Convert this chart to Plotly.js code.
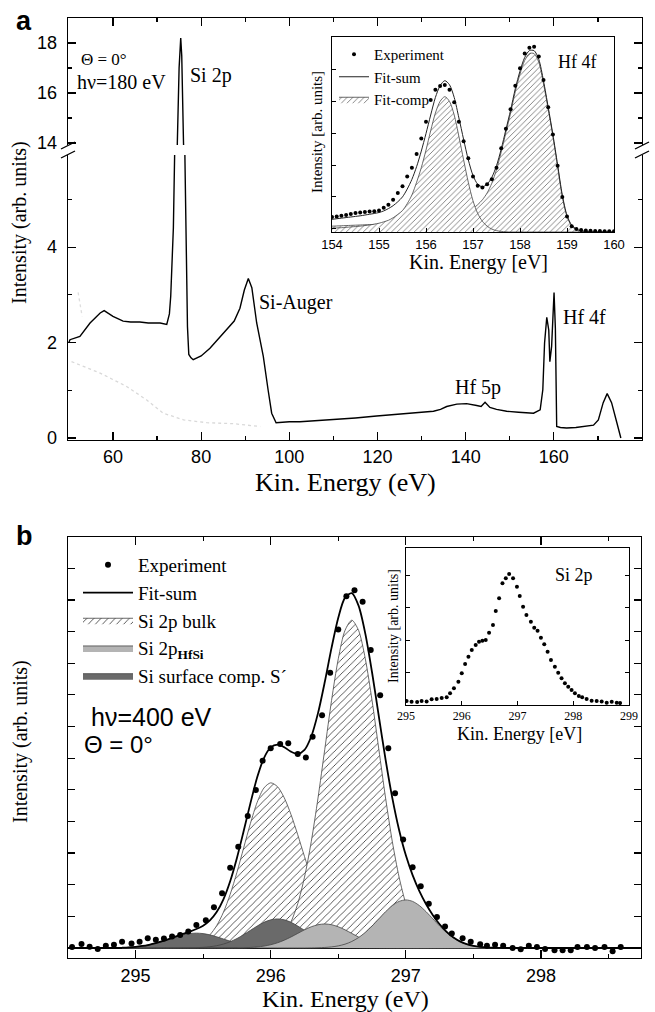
<!DOCTYPE html>
<html><head><meta charset="utf-8">
<script src="https://cdn.plot.ly/plotly-3.0.1.min.js"></script>
<style>html,body{margin:0;padding:0;background:#fff}#chart{width:655px;height:1012px}</style>
</head><body><div id="chart"></div>
<script>
// ---------- Panel a: survey spectrum ----------
const surveyE = [50,50.25,52.5,54.8,57.1,58,60,62.3,64,66.1,68,70.7,72.2,72.8,73.1,73.5,73.7,74.0,74.6,75.0,75.37,75.6,76.0,76.3,76.6,76.9,77.2,77.7,78.2,80,82,84,85.5,86.5,87.5,88.8,89.8,90.7,91.5,92.6,93.4,94.1,95.2,96.0,97.0,98.5,100,102.4,106,110,115,119.8,124,127.4,130,132.7,134.3,135.7,138.0,140.2,142.5,143.5,144.4,145.5,147,149.3,152,155.4,156.9,157.5,157.9,158.4,158.85,159.1,159.5,160.05,160.35,160.65,161.5,162.9,165,166.7,168,169.0,170.1,171.2,172.1,173.1,174.3,175.2];
const surveyI = [2.0,2.06,2.13,2.41,2.62,2.67,2.55,2.45,2.43,2.43,2.41,2.41,2.38,2.6,2.97,3.8,4.4,6,14,17,18.2,17.5,14,6,3.5,2.33,1.75,1.68,1.64,1.72,1.88,2.08,2.25,2.33,2.45,2.72,3.1,3.34,3.15,2.41,2.0,1.71,1.0,0.52,0.32,0.33,0.34,0.34,0.36,0.39,0.42,0.46,0.49,0.52,0.54,0.56,0.6,0.66,0.71,0.72,0.68,0.66,0.75,0.64,0.6,0.56,0.54,0.52,0.59,1.01,1.99,2.53,2.26,1.6,1.92,3.05,2.3,0.24,0.22,0.21,0.22,0.24,0.26,0.27,0.38,0.74,0.93,0.74,0.32,0.0];
const faintE = [50.6,57.1,63.1,67.6,71.4,76.0,81.3,87.3,93.4];
const faintI = [1.6,1.36,1.08,0.8,0.52,0.38,0.32,0.30,0.24];
const faint2E = [52.1,52.6,53.0];
const faint2I = [3.05,2.8,2.55];
const aXTicks = [60,80,100,120,140,160,180];
const aYLowTicks = [0,2,4];
const aYHighTicks = [14,16,18];

// ---------- Panel a inset: Hf 4f ----------
const hfE = [154.0,154.1,154.2,154.3,154.4,154.5,154.6,154.7,154.8,154.9,155.0,155.1,155.2,155.3,155.4,155.5,155.6,155.7,155.8,155.9,156.0,156.1,156.2,156.3,156.4,156.5,156.6,156.7,156.8,156.9,157.0,157.1,157.2,157.3,157.4,157.5,157.6,157.7,157.8,157.9,158.0,158.1,158.2,158.3,158.4,158.5,158.6,158.7,158.8,158.9,159.0,159.1,159.2,159.3,159.4,159.5,159.6,159.7,159.8,159.9,160.0];
const hfExp = [.077,.080,.083,.087,.092,.097,.100,.103,.105,.107,.110,.125,.140,.165,.200,.235,.285,.330,.400,.480,.566,.677,.730,.749,.754,.730,.665,.565,.465,.378,.285,.237,.228,.245,.270,.330,.430,.530,.630,.750,.840,.915,.945,.950,.900,.780,.640,.500,.340,.180,.080,.030,.015,.010,.008,.006,.005,.005,.004,.004,.004];
const hfSum = [.065,.068,.071,.074,.077,.080,.083,.087,.091,.095,.100,.108,.120,.135,.155,.180,.220,.270,.335,.415,.505,.600,.690,.750,.776,.755,.690,.585,.475,.370,.290,.245,.232,.245,.280,.340,.425,.525,.625,.735,.825,.895,.930,.930,.885,.775,.640,.500,.345,.190,.085,.035,.015,.006,.003,.001,0,0,0,0,0];
const hfComp1 = [.020,.021,.022,.024,.026,.028,.030,.033,.036,.040,.045,.052,.060,.073,.090,.110,.145,.190,.255,.330,.420,.520,.610,.670,.694,.670,.600,.490,.370,.255,.160,.095,.055,.030,.015,.007,.003,.001,0,0,0,0,0,0,0,0,0,0,0,0,0,0,0,0,0,0,0,0,0,0,0];
const hfComp2 = [.030,.031,.032,.033,.034,.035,.036,.037,.038,.039,.040,.042,.044,.046,.048,.050,.052,.054,.056,.058,.060,.063,.066,.069,.072,.075,.080,.087,.095,.106,.120,.140,.165,.200,.250,.320,.410,.510,.610,.720,.810,.880,.915,.915,.870,.760,.630,.490,.335,.180,.080,.030,.012,.005,.002,0,0,0,0,0,0];
const hfXTicks = [154,155,156,157,158,159,160];

// ---------- Panel b: Si 2p fit ----------
const bE = [294.90,294.95,295.00,295.05,295.10,295.15,295.20,295.25,295.30,295.35,295.40,295.45,295.50,295.55,295.60,295.65,295.70,295.75,295.80,295.85,295.90,295.95,296.00,296.05,296.10,296.15,296.20,296.25,296.30,296.35,296.40,296.45,296.50,296.55,296.60,296.65,296.70,296.75,296.80,296.85,296.90,296.95,297.00,297.05,297.10,297.15,297.20,297.25,297.30,297.35,297.40,297.45,297.50,297.55,297.60,297.65,297.70,297.75,297.80,297.85,297.90];
const bBulk1 = [0,0,0,0,0,0,.002,.005,.011,.027,.058,.119,.229,.416,.706,1.129,1.695,2.39,3.166,3.94,4.607,5.058,5.22,5.10,4.75,4.22,3.58,2.89,2.23,1.64,1.15,.77,.49,.30,.17,.094,.051,.026,.013,.006,.003,0,0,0,0,0,0,0,0,0,0,0,0,0,0,0,0,0,0,0,0];
const bBulk2 = [0,0,0,0,0,0,0,0,0,0,0,0,0,0,0,0,0,0,.003,.009,.023,.053,.115,.236,.455,.825,1.40,2.24,3.36,4.74,6.28,7.82,9.14,10.04,10.36,10.04,9.14,7.82,6.28,4.74,3.36,2.24,1.40,.825,.455,.236,.115,.053,.023,.009,.003,0,0,0,0,0,0,0,0,0,0];
const bSurf1 = [.011,.021,.037,.064,.102,.153,.215,.285,.355,.415,.455,.47,.455,.415,.355,.285,.215,.153,.102,.064,.037,.021,.011,.005,.002,0,0,0,0,0,0,0,0,0,0,0,0,0,0,0,0,0,0,0,0,0,0,0,0,0,0,0,0,0,0,0,0,0,0,0,0];
const bSurf2 = [0,0,0,0,0,0,0,0,0,.002,.005,.010,.021,.040,.073,.124,.199,.299,.421,.558,.694,.812,.891,.92,.891,.812,.694,.558,.421,.299,.199,.124,.073,.040,.021,.010,.005,.002,0,0,0,0,0,0,0,0,0,0,0,0,0,0,0,0,0,0,0,0,0,0,0];
const bHfSi1 = [0,0,0,0,0,0,0,0,0,0,0,0,0,0,0,0,.002,.004,.008,.017,.033,.060,.103,.164,.247,.348,.461,.574,.671,.736,.76,.736,.671,.574,.461,.348,.247,.164,.103,.060,.033,.017,.008,.004,.002,0,0,0,0,0,0,0,0,0,0,0,0,0,0,0,0];
const bHfSi2 = [0,0,0,0,0,0,0,0,0,0,0,0,0,0,0,0,0,0,0,0,0,0,0,0,0,0,0,0,.003,.008,.017,.035,.067,.121,.206,.329,.494,.696,.922,1.147,1.341,1.473,1.52,1.473,1.341,1.147,.922,.696,.494,.329,.206,.121,.067,.035,.017,.008,.003,0,0,0,0];
const bSum = [.011,.021,.037,.064,.102,.153,.217,.29,.366,.444,.518,.599,.705,.871,1.134,1.538,2.111,2.846,3.697,4.579,5.394,6.004,6.34,6.425,6.345,6.206,6.135,6.262,6.685,7.423,8.406,9.485,10.441,11.075,11.218,10.821,9.937,8.708,7.318,5.953,4.737,3.73,2.928,2.302,1.798,1.383,1.037,.749,.517,.338,.209,.121,.067,.035,.017,.008,.003,0,0,0,0];
const bExpE = [294.53,294.60,294.66,294.72,294.78,294.84,294.90,294.97,295.03,295.09,295.15,295.21,295.27,295.33,295.39,295.45,295.52,295.58,295.64,295.70,295.76,295.83,295.89,295.94,296.00,296.07,296.13,296.20,296.26,296.31,296.38,296.44,296.50,296.56,296.62,296.68,296.74,296.81,296.87,296.92,296.98,297.05,297.11,297.17,297.23,297.29,297.34,297.42,297.48,297.55,297.60,297.66,297.72,297.79,297.85,297.91,297.97,298.03,298.10,298.16,298.22,298.27,298.34,298.40,298.47,298.53,298.59];
const bExpI = [.03,.13,.04,-.03,.07,.10,.20,.14,.20,.31,.26,.30,.36,.41,.52,.73,.88,1.29,1.73,2.54,3.20,4.17,4.99,5.92,6.31,6.45,6.47,6.13,6.02,6.68,7.36,8.70,10.07,11.12,11.31,10.94,9.42,7.99,6.31,4.89,3.43,2.55,1.95,1.40,.98,.68,.46,.31,.20,.12,.07,.10,.07,0,-.04,.07,.03,-.03,-.07,-.07,-.07,.03,.03,0,.03,-.10,.03];
const bXTicks = [295,296,297,298];

// ---------- Panel b inset: Si 2p ----------
const siE = [295.01,295.10,295.20,295.28,295.37,295.46,295.55,295.64,295.73,295.79,295.86,295.94,296.00,296.06,296.12,296.18,296.25,296.31,296.37,296.43,296.49,296.56,296.61,296.67,296.73,296.79,296.85,296.92,296.99,297.04,297.10,297.16,297.24,297.30,297.36,297.42,297.48,297.54,297.60,297.67,297.73,297.79,297.85,297.91,297.97,298.03,298.10,298.16,298.24,298.33,298.42,298.51,298.60,298.69,298.78,298.84];
const siI = [.031,.025,.023,.030,.027,.044,.046,.054,.059,.090,.128,.179,.244,.315,.372,.423,.462,.487,.495,.500,.556,.615,.723,.821,.936,.975,1.008,.975,.910,.838,.756,.692,.641,.595,.572,.518,.467,.410,.346,.295,.248,.205,.167,.141,.115,.090,.069,.059,.046,.033,.031,.027,.018,.025,.018,.015];
const siXTicks = [295,296,297,298,299];

// ---------- helpers ----------
const W = 655, H = 1012;
const px = v => v / W;
const py = v => 1 - v / H;
const SERIF = 'Liberation Serif';
const SANS = 'Liberation Sans';
const hatchA = {shape: '/', fgcolor: '#6a6a6a', bgcolor: '#ffffff', size: 4, solidity: 0.2};
const hatchB = {shape: '/', fgcolor: '#404040', bgcolor: '#ffffff', size: 5, solidity: 0.17};
const outline = {color: '#444', width: 0.8, shape: 'spline', smoothing: 0.8};

const traces = [
  // panel a
  {x: faintE, y: faintI, xaxis: 'x', yaxis: 'y', mode: 'lines', line: {color: '#d9d9d9', width: 1.3, dash: 'dot'}, showlegend: false},
  {x: faint2E, y: faint2I, xaxis: 'x', yaxis: 'y', mode: 'lines', line: {color: '#dedede', width: 1.3, dash: 'dot'}, showlegend: false},
  {x: surveyE, y: surveyI, xaxis: 'x', yaxis: 'y', mode: 'lines', line: {color: '#000', width: 1.4}, showlegend: false},
  {x: surveyE, y: surveyI, xaxis: 'x2', yaxis: 'y2', mode: 'lines', line: {color: '#000', width: 1.4}, showlegend: false},
  // inset a
  {x: hfE, y: hfComp2, xaxis: 'x3', yaxis: 'y3', mode: 'lines', fill: 'tozeroy', fillcolor: '#ffffff', fillpattern: hatchA, line: outline, showlegend: false},
  {x: hfE, y: hfComp1, xaxis: 'x3', yaxis: 'y3', mode: 'lines', fill: 'tozeroy', fillcolor: '#ffffff', fillpattern: hatchA, line: outline, name: 'Fit-comp', legend: 'legend2', legendrank: 3},
  {x: hfE, y: hfSum, xaxis: 'x3', yaxis: 'y3', mode: 'lines', line: {color: '#222', width: 1, shape: 'spline', smoothing: 0.8}, name: 'Fit-sum', legend: 'legend2', legendrank: 2},
  {x: hfE, y: hfExp, xaxis: 'x3', yaxis: 'y3', mode: 'markers', marker: {color: '#000', size: 4}, name: 'Experiment', legend: 'legend2', legendrank: 1},
  // panel b
  {x: bE, y: bBulk1, xaxis: 'x4', yaxis: 'y4', mode: 'lines', fill: 'tozeroy', fillcolor: '#ffffff', fillpattern: hatchB, line: outline, showlegend: false},
  {x: bE, y: bBulk2, xaxis: 'x4', yaxis: 'y4', mode: 'lines', fill: 'tozeroy', fillcolor: '#ffffff', fillpattern: hatchB, line: outline, name: 'Si 2p bulk', legendrank: 3},
  {x: bE, y: bSurf1, xaxis: 'x4', yaxis: 'y4', mode: 'lines', fill: 'tozeroy', fillcolor: '#6a6a6a', line: outline, showlegend: false},
  {x: bE, y: bSurf2, xaxis: 'x4', yaxis: 'y4', mode: 'lines', fill: 'tozeroy', fillcolor: '#6a6a6a', line: outline, name: 'Si surface comp. S´', legendrank: 5},
  {x: bE, y: bHfSi1, xaxis: 'x4', yaxis: 'y4', mode: 'lines', fill: 'tozeroy', fillcolor: '#b4b4b4', line: outline, showlegend: false},
  {x: bE, y: bHfSi2, xaxis: 'x4', yaxis: 'y4', mode: 'lines', fill: 'tozeroy', fillcolor: '#b4b4b4', line: outline, name: 'Si 2p<sub><b>HfSi</b></sub>', legendrank: 4},
  {x: bE, y: bSum, xaxis: 'x4', yaxis: 'y4', mode: 'lines', line: {color: '#000', width: 1.8, shape: 'spline', smoothing: 0.8}, name: 'Fit-sum', legendrank: 2},
  {x: bExpE, y: bExpI, xaxis: 'x4', yaxis: 'y4', mode: 'markers', marker: {color: '#000', size: 6}, name: 'Experiment', legendrank: 1},
  // inset b
  {x: siE, y: siI, xaxis: 'x5', yaxis: 'y5', mode: 'markers', marker: {color: '#000', size: 4}, showlegend: false}
];

const axBase = {showline: true, linecolor: '#000', linewidth: 1.3, ticks: 'inside', tickcolor: '#000', tickwidth: 1.2, showgrid: false, zeroline: false, fixedrange: true};
const mainTickFont = {family: SANS, size: 18, color: '#000'};

const layout = {
  width: W, height: H,
  margin: {l: 0, r: 0, t: 0, b: 0},
  paper_bgcolor: '#fff', plot_bgcolor: 'rgba(0,0,0,0)',
  font: {family: SERIF, color: '#000'},
  // panel a lower part
  xaxis: Object.assign({}, axBase, {domain: [px(68), px(642)], range: [49.8, 180], anchor: 'y', tickmode: 'array', tickvals: aXTicks, ticklen: 8, tickfont: mainTickFont, ticklabelstandoff: 0, minor: {tickmode: 'linear', tick0: 50, dtick: 10, ticklen: 4, ticks: 'inside', tickcolor: '#000'}}),
  yaxis: Object.assign({}, axBase, {domain: [py(440), py(155)], range: [-0.042, 5.93], anchor: 'x', mirror: 'ticks', tickmode: 'array', tickvals: aYLowTicks, ticklen: 8, tickfont: mainTickFont, ticklabelstandoff: 6, minor: {tickmode: 'linear', tick0: 0, dtick: 1, ticklen: 4, ticks: 'inside', tickcolor: '#000'}}),
  // panel a upper part
  xaxis2: Object.assign({}, axBase, {domain: [px(68), px(642)], range: [49.8, 180], anchor: 'y2', side: 'top', tickmode: 'array', tickvals: aXTicks, ticklen: 8, showticklabels: false, minor: {tickmode: 'linear', tick0: 50, dtick: 10, ticklen: 4, ticks: 'inside', tickcolor: '#000'}}),
  yaxis2: Object.assign({}, axBase, {domain: [py(145), py(18)], range: [13.92, 19.0], anchor: 'x2', mirror: 'ticks', tickmode: 'array', tickvals: aYHighTicks, ticklen: 8, tickfont: mainTickFont, ticklabelstandoff: 6, minor: {tickmode: 'linear', tick0: 14, dtick: 1, ticklen: 4, ticks: 'inside', tickcolor: '#000'}}),
  // inset a
  xaxis3: Object.assign({}, axBase, {domain: [px(332), px(614)], range: [154, 160], anchor: 'y3', mirror: true, linewidth: 1, tickmode: 'array', tickvals: hfXTicks, ticklen: 4, tickwidth: 1, tickfont: {family: SANS, size: 13, color: '#000'}, ticklabelstandoff: 0}),
  yaxis3: Object.assign({}, axBase, {domain: [py(232), py(37)], range: [0, 1], anchor: 'x3', mirror: true, linewidth: 1, tickmode: 'linear', tick0: 0.017, dtick: 0.163, ticklen: 4, tickwidth: 1, showticklabels: false}),
  // panel b
  xaxis4: Object.assign({}, axBase, {domain: [px(68), px(641)], range: [294.5, 298.74], anchor: 'y4', mirror: 'ticks', tickmode: 'array', tickvals: bXTicks, ticklen: 8, tickfont: mainTickFont, ticklabelstandoff: 1, minor: {tickmode: 'linear', tick0: 294.5, dtick: 0.5, ticklen: 4, ticks: 'inside', tickcolor: '#000'}}),
  yaxis4: Object.assign({}, axBase, {domain: [py(958), py(537)], range: [-0.316, 12.99], anchor: 'x4', mirror: 'ticks', tickmode: 'linear', tick0: 0, dtick: 1, ticklen: 7, showticklabels: false, zeroline: true, zerolinecolor: '#000', zerolinewidth: 1.2}),
  // inset b
  xaxis5: Object.assign({}, axBase, {domain: [px(406), px(629)], range: [295, 299], anchor: 'y5', mirror: true, linewidth: 1, tickmode: 'array', tickvals: siXTicks, ticklen: 4, tickwidth: 1, tickfont: {family: SERIF, size: 12, color: '#000'}, ticklabelstandoff: 0}),
  yaxis5: Object.assign({}, axBase, {domain: [py(705), py(548)], range: [0, 1.208], anchor: 'x5', mirror: 'ticks', linewidth: 1, tickmode: 'linear', tick0: 0, dtick: 0.25, ticklen: 4, tickwidth: 1, showticklabels: false}),
  legend: {x: px(78), y: py(546), xanchor: 'left', yanchor: 'top', font: {family: SERIF, size: 19, color: '#000'}, bgcolor: 'rgba(0,0,0,0)', itemwidth: 50, tracegroupgap: 0, traceorder: 'normal'},
  legend2: {x: px(334), y: py(38), xanchor: 'left', yanchor: 'top', font: {family: SERIF, size: 15, color: '#000'}, bgcolor: 'rgba(0,0,0,0)', itemwidth: 30, tracegroupgap: 0, traceorder: 'normal'},
  shapes: [
    {type: 'line', xref: 'paper', yref: 'paper', x0: px(61), y0: py(149), x1: px(75), y1: py(142), line: {color: '#000', width: 1.3}},
    {type: 'line', xref: 'paper', yref: 'paper', x0: px(61), y0: py(158), x1: px(75), y1: py(151), line: {color: '#000', width: 1.3}},
    {type: 'line', xref: 'paper', yref: 'paper', x0: px(635), y0: py(149), x1: px(649), y1: py(142), line: {color: '#000', width: 1.3}},
    {type: 'line', xref: 'paper', yref: 'paper', x0: px(635), y0: py(158), x1: px(649), y1: py(151), line: {color: '#000', width: 1.3}}
  ],
  annotations: []
};

function ann(text, x, y, size, opts) {
  layout.annotations.push(Object.assign({text: text, x: px(x), y: py(y), xref: 'paper', yref: 'paper', xanchor: 'center', yanchor: 'middle', showarrow: false, font: {family: SERIF, size: size, color: '#000'}}, opts || {}));
}
ann('<b>a</b>', 24, 21, 27, {font: {family: SANS, size: 27, color: '#000'}});
ann('Θ = 0°', 104, 60, 17);
ann('hν=180 eV', 121, 82, 20);
ann('Si 2p', 211, 75, 20);
ann('Si-Auger', 296, 303, 20);
ann('Hf 5p', 478, 387, 20);
ann('Hf 4f', 584, 317, 20);
ann('Hf 4f', 577, 62, 18);
ann('Intensity (arb. units)', 20, 223, 20, {textangle: -90});
ann('Kin. Energy (eV)', 345, 482, 26);
ann('Intensity [arb. units]', 317, 132, 15, {textangle: -90});
ann('Kin. Energy [eV]', 478, 262, 20);
ann('<b>b</b>', 24, 536, 27, {font: {family: SANS, size: 27, color: '#000'}});
ann('hν=400 eV', 151, 717, 25, {font: {family: SANS, size: 25, color: '#000'}});
ann('Θ = 0°', 118, 744, 24, {font: {family: SANS, size: 24, color: '#000'}});
ann('Intensity (arb. units)', 20, 742, 20, {textangle: -90});
ann('Kin. Energy (eV)', 345, 999, 24);
ann('Si 2p', 574, 575, 18);
ann('Kin. Energy [eV]', 519, 734, 18);
ann('Intensity [arb. units]', 393, 626, 14, {textangle: -90});

Plotly.newPlot('chart', traces, layout, {displayModeBar: false, staticPlot: true});
</script>
</body></html>
